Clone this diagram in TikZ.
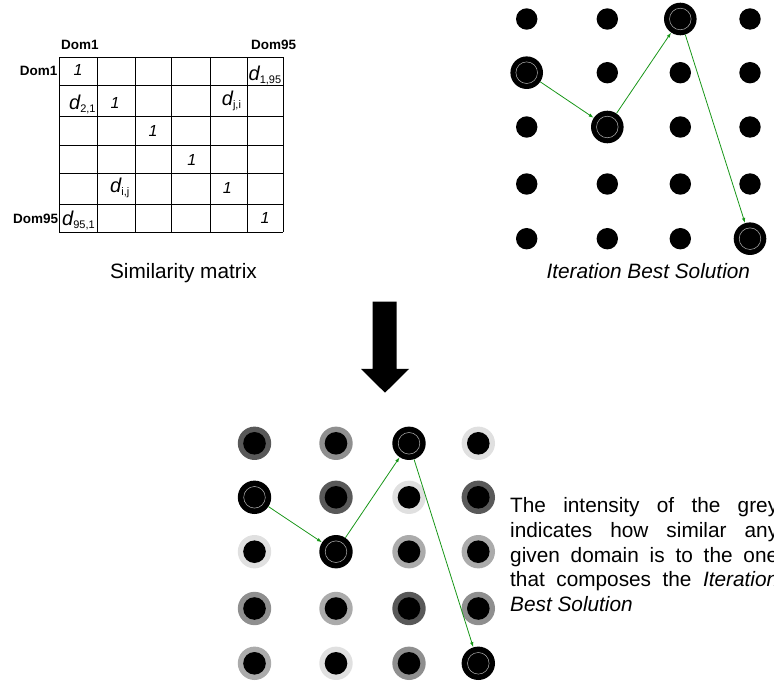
\documentclass[tikz,border=0pt]{standalone}
\usepackage{fontspec}
\setmainfont{Liberation Sans}
\usetikzlibrary{arrows.meta}
\definecolor{pathgreen}{RGB}{24,150,24}
\definecolor{darkgrey}{gray}{0.35}
\definecolor{midgrey}{gray}{0.56}
\definecolor{softgrey}{gray}{0.67}
\definecolor{palegrey}{gray}{0.88}
\definecolor{ringgrey}{gray}{0.7}
\hyphenpenalty=10000
\exhyphenpenalty=10000
\tolerance=10000
\newcommand{\dval}[1]{{\fontsize{20}{20}\selectfont\itshape d}\raisebox{-3pt}{\fontsize{11}{11}\selectfont\upshape #1}}
\begin{document}
\begin{tikzpicture}[x=1pt,y=-1pt]
            %
            % `entry' is used for the cells of the matrix.
            % `domlabel' is used for the row and column headers.
            % `dot' is used for the plain domains.
            % `best' is used for the domains of the best solution.
            % `halo' is used for the grey domains below.
            % `hop' is used for the green arrows.
            \tikzstyle{entry} = [inner sep=0pt,font=\fontsize{16}{16}\selectfont\itshape]
            \tikzstyle{domlabel} = [inner sep=0pt,font=\fontsize{13.5}{13.5}\selectfont\bfseries]
            \tikzstyle{caption} = [inner sep=0pt,font=\fontsize{20.8}{20.8}\selectfont]
            \tikzstyle{dot} = [fill,circle,minimum size=21.4pt,inner sep=0pt]
            \tikzstyle{best} = [fill,circle,inner sep=0pt,path picture={
                \draw[ringgrey,line width=0.5pt] (path picture bounding box.center) circle (10.8pt);
                }]
            \tikzstyle{halo} = [circle,minimum size=33.4pt,inner sep=0pt,path picture={
                \fill[black] (path picture bounding box.center) circle (11.3pt);
                }]
            \tikzstyle{hop} = [-{Latex[length=5pt,width=3.5pt]},draw=pathgreen,line width=0.8pt]
            \useasboundingbox (0,0) rectangle (774,684);
            %
            % Similarity matrix
            \foreach \x in {59.3,97.7,135.3,171.7,210.7,247.3,283.3}
                \draw[line width=0.8pt] (\x,57.3) -- (\x,232.3);
            \foreach \y in {57.3,85.7,116.7,145,173.3,204,232.3}
                \draw[line width=0.8pt] (59.3,\y) -- (283.3,\y);
            \node[domlabel,anchor=base west] (col1) at (61,50) {Dom1};
            \node[domlabel,anchor=base west] (col95) at (251,50) {Dom95};
            \node[domlabel,anchor=base east] (row1) at (57.5,76) {Dom1};
            \node[domlabel,anchor=base east] (row95) at (58.3,224) {Dom95};
            \node[entry,anchor=base] (one1) at (78,76) {1};
            \node[entry,anchor=base] (one2) at (115,108.3) {1};
            \node[entry,anchor=base] (one3) at (153,136.7) {1};
            \node[entry,anchor=base] (one4) at (191.7,165.7) {1};
            \node[entry,anchor=base] (one5) at (227.3,194) {1};
            \node[entry,anchor=base] (one6) at (265,224) {1};
            \node[entry,anchor=base west] (d195) at (248.5,81) {\dval{1,95}};
            \node[entry,anchor=base west] (d21) at (69,109.5) {\dval{2,1}};
            \node[entry,anchor=base west] (dji) at (221.7,106) {\dval{j,i}};
            \node[entry,anchor=base west] (dij) at (110,193) {\dval{i,j}};
            \node[entry,anchor=base west] (d951) at (62,226) {\dval{95,1}};
            \node[caption,anchor=base] (simcap) at (183.5,279) {Similarity matrix};
            %
            % Iteration best solution
            \def\topxs{{526.7,607.3,680.3,750}}
            \def\topys{{19,72.7,127,184,238.7}}
            \foreach \c in {1,...,4}
                \foreach \r in {1,...,5}{
                    \pgfmathsetmacro{\xx}{\topxs[\c-1]}
                    \pgfmathsetmacro{\yy}{\topys[\r-1]}
                    \node[dot] (t-\c-\r) at (\xx,\yy) {};
                }
            \node[best,minimum size=32.6pt] (tb1) at (526.7,72.7) {};
            \node[best,minimum size=32.6pt] (tb2) at (607.3,127) {};
            \node[best,minimum size=32.6pt] (tb3) at (680.3,19) {};
            \node[best,minimum size=32.6pt] (tb4) at (750,238.7) {};
            \draw[hop] (tb1) -- (tb2);
            \draw[hop] (tb2) -- (tb3);
            \draw[hop] (tb3) -- (tb4);
            \node[caption,anchor=base,font=\fontsize{20.8}{20.8}\selectfont\itshape] (bestcap) at (648.3,278.3) {Iteration Best Solution};
            %
            % Big arrow
            \fill (372.7,301.7) -- (396.7,301.7) -- (396.7,369) -- (409,369) -- (385,392.7)
                -- (361,369) -- (372.7,369) -- cycle;
            %
            % Grey domains
            \def\lowxs{{254.5,336,409,478.3}}
            \def\lowys{{443.3,497.3,551.7,608.5,663.3}}
            \foreach \c/\r/\tone in {1/1/darkgrey,2/1/midgrey,4/1/palegrey,
                                     2/2/darkgrey,3/2/palegrey,4/2/darkgrey,
                                     1/3/palegrey,3/3/softgrey,4/3/softgrey,
                                     1/4/midgrey,2/4/softgrey,3/4/darkgrey,4/4/midgrey,
                                     1/5/softgrey,2/5/palegrey,3/5/midgrey}{
                \pgfmathsetmacro{\xx}{\lowxs[\c-1]}
                \pgfmathsetmacro{\yy}{\lowys[\r-1]}
                \node[halo,fill=\tone] (g-\c-\r) at (\xx,\yy) {};
            }
            \node[best,minimum size=33.4pt] (gb1) at (254.5,497.3) {};
            \node[best,minimum size=33.4pt] (gb2) at (336,551.7) {};
            \node[best,minimum size=33.4pt] (gb3) at (409,443.3) {};
            \node[best,minimum size=33.4pt] (gb4) at (478.3,663.3) {};
            \draw[hop] (gb1) -- (gb2);
            \draw[hop] (gb2) -- (gb3);
            \draw[hop] (gb3) -- (gb4);
            %
            % Note
            \node[inner sep=0pt,anchor=north west,text width=268pt,align=justify,
                  font=\fontsize{20.8}{24.85}\selectfont] (note) at (510,497.1)
                {The intensity of the grey indicates how similar any given domain is to the one that composes the \textit{Iteration Best Solution}};
\end{tikzpicture}
\end{document}
